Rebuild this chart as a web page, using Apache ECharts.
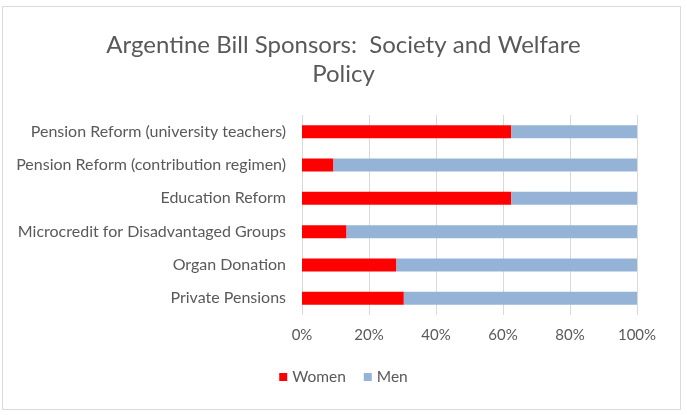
<!DOCTYPE html>
<html><head><meta charset="utf-8">
<script src="https://cdn.jsdelivr.net/npm/echarts@6/dist/echarts.min.js"></script>
<style>html,body{margin:0;padding:0;background:#fff}#c{width:687px;height:415px}</style>
</head><body><div id="c"></div>
<script>
const categories = ["Pension Reform (university teachers)","Pension Reform (contribution regimen)","Education Reform","Microcredit for Disadvantaged Groups","Organ Donation","Private Pensions"];
const women = [62.5, 9.4, 62.5, 13.3, 28.2, 30.4];
const men = [37.5, 90.6, 37.5, 86.7, 71.8, 69.6];
const tickLabels = ["0%","20%","40%","60%","80%","100%"];
const FONT = "Lato, sans-serif";
const chart = echarts.init(document.getElementById('c'));
chart.setOption({
  animation:false,
  title:{text:'Argentine Bill Sponsors:  Society and Welfare\nPolicy',left:'center',top:26,
    textStyle:{fontFamily:FONT,fontSize:24,fontWeight:'normal',color:'#595959',lineHeight:29}},
  graphic:[{type:'rect',shape:{x:2.5,y:6.5,width:678,height:403},style:{fill:'none',stroke:'#d9d9d9',lineWidth:1}}],
  legend:{bottom:25,left:'center',itemWidth:8,itemHeight:8,itemGap:18,icon:'rect',
    textStyle:{fontFamily:FONT,fontSize:15.5,color:'#595959'},data:['Women','Men']},
  grid:{left:302,right:50,top:115,bottom:100,containLabel:false},
  xAxis:{type:'value',min:0,max:100,interval:20,
    axisLabel:{formatter:v=>tickLabels[v/20],fontFamily:FONT,fontSize:15,color:'#595959',margin:13},
    splitLine:{lineStyle:{color:'#d9d9d9'}},axisLine:{show:false},axisTick:{show:false}},
  yAxis:{type:'category',inverse:true,data:categories,
    axisLabel:{fontFamily:FONT,fontSize:16,color:'#595959',margin:16},
    axisLine:{show:false},axisTick:{show:false}},
  series:[
    {name:'Women',type:'bar',stack:'a',data:women,barWidth:13,itemStyle:{color:'#ff0000'}},
    {name:'Men',type:'bar',stack:'a',data:men,barWidth:13,itemStyle:{color:'#95b3d7'}}
  ]
});
</script></body></html>
